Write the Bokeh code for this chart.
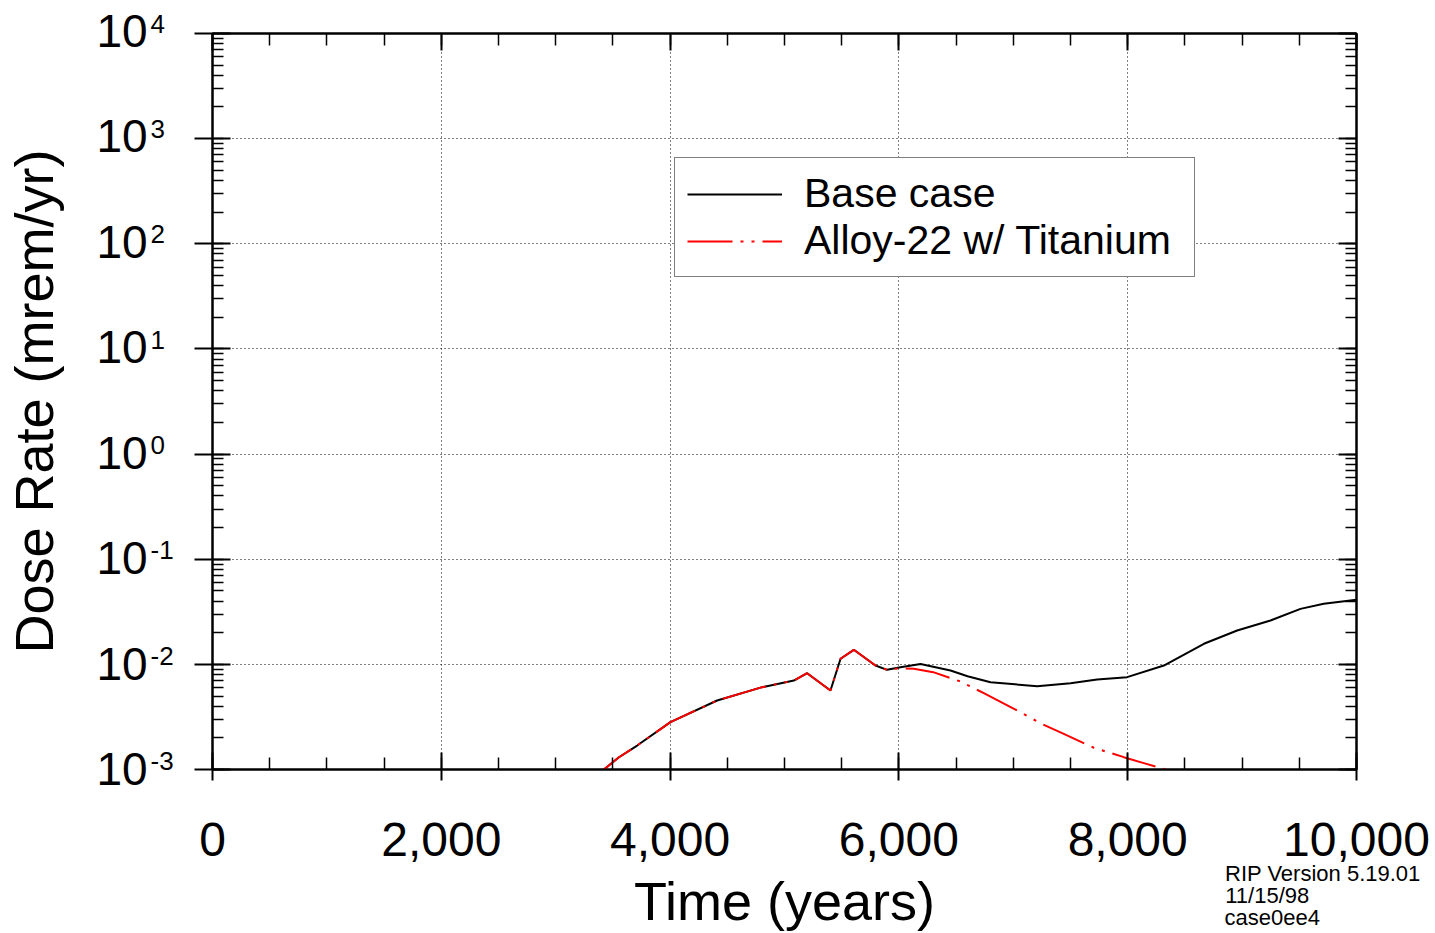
from bokeh.plotting import figure
from bokeh.models import (FixedTicker, LinearAxis, LogAxis, Range1d, NumeralTickFormatter,
                          CustomJSTickFormatter, Legend, LegendItem, Label)
from bokeh.embed import file_html
from bokeh.resources import INLINE

# ---- data ----
base_years = [3350, 3421, 3550, 3712, 4003, 4411, 4805, 5082, 5198, 5402, 5490, 5606, 5795,
              5897, 6014, 6189, 6451, 6600, 6801, 7209, 7500, 7733, 7995, 8316, 8666, 8957,
              9248, 9510, 9714, 10000]
base_dose = [0.00085, 0.001, 0.0013, 0.00169, 0.00282, 0.00453, 0.00607, 0.00702, 0.00824,
             0.00564, 0.0113, 0.01375, 0.00975, 0.00887, 0.0094, 0.0101, 0.00873, 0.0077,
             0.00676, 0.00619, 0.00662, 0.00718, 0.00756, 0.00975, 0.0157, 0.021, 0.0261,
             0.0337, 0.0377, 0.0411]

alloy_years = [3350, 3421, 3550, 3712, 4003, 4411, 4805, 5082, 5198, 5402, 5490, 5606, 5795,
               5897, 6014, 6130, 6300, 6538, 6742, 7034, 7238, 7441, 7704, 7966, 8141, 8330, 8500]
alloy_dose = [0.00085, 0.001, 0.0013, 0.00169, 0.00282, 0.00453, 0.00607, 0.00702, 0.00824,
              0.00564, 0.0113, 0.01375, 0.00975, 0.00887, 0.0092, 0.00908, 0.00843, 0.00687,
              0.00532, 0.00364, 0.00275, 0.00218, 0.00161, 0.00131, 0.00115, 0.001, 0.00085]

x_major = [0, 2000, 4000, 6000, 8000, 10000]
x_minor = list(range(0, 10001, 500))
y_exponents = [4, 3, 2, 1, 0, -1, -2, -3]
y_major = sorted(10.0 ** k for k in y_exponents)
y_minor = [m * 10.0 ** k for k in range(-3, 4) for m in range(1, 10)]

series_names = ["Base case", "Alloy-22 w/ Titanium"]
stamp_lines = ["RIP Version 5.19.01", "11/15/98", "case0ee4"]
stamp_tick_x = [9706, 9220, 9263]   # centre of each stamp line along the time axis

FONT = "Liberation Sans"

p = figure(width=1435, height=933, x_range=Range1d(0, 10000), y_range=Range1d(1e-3, 1e4),
           y_axis_type="log", output_backend="svg", toolbar_location=None,
           min_border_left=212, min_border_right=79, min_border_top=33, min_border_bottom=164)
p.outline_line_color = "black"
p.outline_line_width = 2
p.background_fill_color = "white"
p.border_fill_color = "white"

BLANK = "return '';"


def style_axis(ax):
    ax.axis_line_color = "black"
    ax.axis_line_width = 2
    ax.major_tick_line_color = "black"
    ax.major_tick_line_width = 2
    ax.minor_tick_line_color = "black"
    ax.minor_tick_line_width = 1.5
    ax.major_label_text_color = "black"
    ax.major_label_text_font = FONT
    ax.axis_label_text_font = FONT
    ax.axis_label_text_font_style = "normal"
    ax.axis_label_text_color = "black"


def hide_marks(ax):
    ax.axis_line_color = None
    ax.major_tick_line_color = None
    ax.minor_tick_line_color = None
    ax.major_tick_in = 0
    ax.major_tick_out = 0
    ax.minor_tick_in = 0
    ax.minor_tick_out = 0


# bottom x axis
xa = p.xaxis[0]
style_axis(xa)
xa.ticker = FixedTicker(ticks=x_major, minor_ticks=x_minor)
xa.formatter = NumeralTickFormatter(format="0,0")
xa.major_tick_in = 17
xa.major_tick_out = 11
xa.minor_tick_in = 12
xa.minor_tick_out = 0
xa.major_label_text_font_size = "48px"
xa.major_label_standoff = 42
xa.axis_label = "Time (years)"
xa.axis_label_text_font_size = "54px"
xa.axis_label_standoff = 12

# left y axis: ticks only
ya = p.yaxis[0]
style_axis(ya)
ya.ticker = FixedTicker(ticks=y_major, minor_ticks=y_minor)
ya.formatter = CustomJSTickFormatter(code=BLANK)
ya.major_tick_in = 18
ya.major_tick_out = 18
ya.minor_tick_in = 11
ya.minor_tick_out = 0
ya.major_label_text_font_size = "1px"
ya.major_label_standoff = 0

# y tick labels: "10" with raised exponent (side panel annotations are not clipped)
tens = Label(x=0, y=1e4, x_offset=-116, y_offset=29, text="\n".join("10" for _ in y_exponents),
             text_font=FONT, text_font_size="46px", text_color="black",
             text_baseline="top", text_align="left", text_line_height=2.029)
exps = Label(x=0, y=1e4, x_offset=-62, y_offset=25, text="\n".join(str(k) for k in y_exponents),
             text_font=FONT, text_font_size="26px", text_color="black",
             text_baseline="top", text_align="left", text_line_height=3.512)
p.add_layout(tens, "left")
p.add_layout(exps, "left")

# y axis title on an invisible outer axis
ytitle = LogAxis(ticker=FixedTicker(ticks=y_major), formatter=CustomJSTickFormatter(code=BLANK))
style_axis(ytitle)
hide_marks(ytitle)
ytitle.major_label_text_font_size = "1px"
ytitle.major_label_standoff = 0
ytitle.axis_label = "Dose Rate (mrem/yr)"
ytitle.axis_label_text_font_size = "54px"
ytitle.axis_label_standoff = 57
p.add_layout(ytitle, "left")

# top and right mirror axes (no labels)
top = LinearAxis(ticker=FixedTicker(ticks=x_major, minor_ticks=x_minor),
                 formatter=CustomJSTickFormatter(code=BLANK))
style_axis(top)
top.major_tick_in = 17
top.major_tick_out = 0
top.minor_tick_in = 12
top.minor_tick_out = 0
top.major_label_text_font_size = "1px"
top.major_label_standoff = 0
p.add_layout(top, "above")

right = LogAxis(ticker=FixedTicker(ticks=y_major, minor_ticks=y_minor),
                formatter=CustomJSTickFormatter(code=BLANK))
style_axis(right)
right.major_tick_in = 18
right.major_tick_out = 0
right.minor_tick_in = 11
right.minor_tick_out = 0
right.major_label_text_font_size = "1px"
right.major_label_standoff = 0
p.add_layout(right, "right")

# version stamp: an invisible outer x axis whose only labels are the stamp lines
stamp_labels = ["\n" * i + t for i, t in enumerate(stamp_lines)]
stamp = LinearAxis(ticker=FixedTicker(ticks=stamp_tick_x),
                   formatter=CustomJSTickFormatter(args=dict(pos=stamp_tick_x, txt=stamp_labels),
                                                   code="""
for (let i = 0; i < pos.length; i++) { if (Math.abs(tick - pos[i]) < 0.5) return txt[i]; }
return '';
"""))
style_axis(stamp)
hide_marks(stamp)
stamp.major_label_text_font_size = "22px"
stamp.major_label_text_line_height = 22 / 24.57
stamp.major_label_standoff = -73
p.add_layout(stamp, "below")

# grid
p.xgrid.ticker = FixedTicker(ticks=x_major[1:-1])
p.ygrid.ticker = FixedTicker(ticks=y_major[1:-1])
for g in (p.xgrid[0], p.ygrid[0]):
    g.grid_line_color = "black"
    g.grid_line_width = 1
    g.grid_line_dash = "1 3"

r_base = p.line(base_years, base_dose, line_color="black", line_width=2)
r_alloy = p.line(alloy_years, alloy_dose, line_color="#ff0000", line_width=2,
                 line_dash="45 8 3 8 3 8")

legend = Legend(items=[LegendItem(label=series_names[0], renderers=[r_base]),
                       LegendItem(label=series_names[1] + "\u00a0", renderers=[r_alloy])],
                location=(462, 492))
legend.border_line_color = "black"
legend.border_line_width = 1
legend.background_fill_color = "white"
legend.background_fill_alpha = 1
legend.label_text_font = FONT
legend.label_text_font_size = "41px"
legend.label_text_color = "black"
legend.glyph_width = 95
legend.glyph_height = 20
legend.label_standoff = 22
legend.padding = 12
legend.spacing = 0
legend.margin = 0
p.add_layout(legend, "center")

open("out.html", "w").write(file_html(p, INLINE))
